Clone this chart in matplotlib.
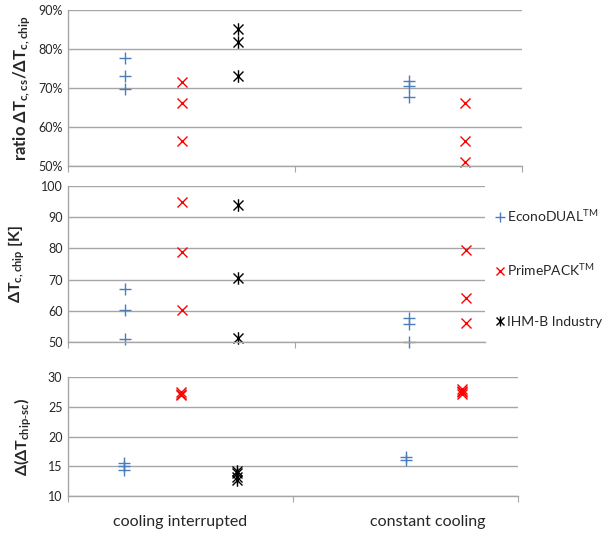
import matplotlib
matplotlib.use('Agg')
import matplotlib.pyplot as plt
from matplotlib.path import Path
from matplotlib.ticker import FuncFormatter

# --- data ---
CATEGORIES = ['cooling interrupted', 'constant cooling']
SERIES = ['EconoDUAL$^{TM}$', 'PrimePACK$^{TM}$', 'IHM-B Industry']

# x values of the scatter points (two groups)
ECONO_X = [0.5, 0.5, 0.5, 3.0, 3.0, 3.0]
PRIME_X = [1.0, 1.0, 1.0, 3.5, 3.5, 3.5]
IHM_X = [1.5, 1.5, 1.5]

# ratio dTc,cs / dTc,chip  [%]
RATIO_ECONO = [77.6, 73.0, 69.7, 71.9, 70.5, 67.8]
RATIO_PRIME = [71.5, 66.1, 56.3, 66.1, 56.4, 50.9]
RATIO_IHM = [85.0, 81.9, 73.2]

# dTc,chip [K]
DT_ECONO = [67.0, 60.2, 51.0, 57.8, 55.8, 50.0]
DT_PRIME = [95.0, 79.0, 60.2, 79.5, 64.0, 56.1]
DT_IHM = [93.8, 70.4, 51.3]

# delta(dT chip-sc)
DD_ECONO_X = [0.5, 0.5, 0.5, 3.0, 3.0]
DD_ECONO = [15.6, 15.0, 14.4, 16.5, 16.0]
DD_PRIME_X = [1.0, 1.0, 1.0, 3.5, 3.5, 3.5, 3.5]
DD_PRIME = [27.4, 27.1, 26.9, 28.0, 27.7, 27.4, 27.1]
DD_IHM_X = [1.5, 1.5, 1.5, 1.5]
DD_IHM = [14.2, 13.8, 13.2, 12.7]

BLUE = '#4a7ebb'
RED = '#ff0000'
BLACK = '#000000'
GRID = '#a6a6a6'
TXT = '#262626'

plt.rcParams['font.family'] = ['Lato', 'DejaVu Sans']
plt.rcParams['mathtext.default'] = 'regular'

fig = plt.figure(figsize=(6.14, 5.38), dpi=100)
W, H = 614, 538


def add_ax(left, top, right, bottom):
    return fig.add_axes([left / W, 1 - bottom / H, (right - left) / W, (bottom - top) / H])


ax1 = add_ax(68, 10, 522, 166)
ax2 = add_ax(68, 186, 485, 342)
ax3 = add_ax(68, 377, 518, 496)

# Excel style "star": an x with a vertical bar through it
STAR = Path([(-1, -1), (1, 1), (-1, 1), (1, -1), (0, -1.25), (0, 1.25)],
            [Path.MOVETO, Path.LINETO, Path.MOVETO, Path.LINETO, Path.MOVETO, Path.LINETO])


def draw(ax, ex, ey, px, py, ix, iy):
    ax.plot(ex, ey, marker='+', color=BLUE, label=SERIES[0], linestyle='none',
            markersize=9, markeredgewidth=1.0, clip_on=False)
    ax.plot(px, py, marker='x', color=RED, label=SERIES[1], linestyle='none',
            markersize=7.5, markeredgewidth=1.0, clip_on=False)
    ax.plot(ix, iy, marker=STAR, color=BLACK, label=SERIES[2], linestyle='none',
            markersize=9, markeredgewidth=1.0, fillstyle='none', clip_on=False)


draw(ax1, ECONO_X, RATIO_ECONO, PRIME_X, RATIO_PRIME, IHM_X, RATIO_IHM)
draw(ax2, ECONO_X, DT_ECONO, PRIME_X, DT_PRIME, IHM_X, DT_IHM)
draw(ax3, DD_ECONO_X, DD_ECONO, DD_PRIME_X, DD_PRIME, DD_IHM_X, DD_IHM)

ax1.set_ylim(50, 90)
ax1.set_yticks(range(50, 91, 10))
ax1.yaxis.set_major_formatter(FuncFormatter(lambda v, p: f'{v:.0f}%'))
ax1.set_xlim(0, 4)
ax1.set_xticks([0, 2, 4])

ax2.set_ylim(50, 100)
ax2.set_yticks(range(50, 101, 10))
ax2.set_xlim(0, 3.67)
ax2.set_xticks([0, 2])

ax3.set_ylim(10, 30)
ax3.set_yticks(range(10, 31, 5))
ax3.set_xlim(0, 4)
ax3.set_xticks([0, 2, 4])

for ax in (ax1, ax2, ax3):
    ax.grid(axis='y', color=GRID, linewidth=1.0)
    ax.set_axisbelow(True)
    for s in ('top', 'right'):
        ax.spines[s].set_visible(False)
    for s in ('left', 'bottom'):
        ax.spines[s].set_color(GRID)
        ax.spines[s].set_linewidth(1.0)
    ax.tick_params(axis='y', length=0, labelsize=9, colors=TXT, pad=4)
    ax.tick_params(axis='x', length=4, color=GRID, labelbottom=False, direction='out')

ax1.set_ylabel('ratio ΔT$_{c, cs}$/ΔT$_{c, chip}$', fontsize=12, fontweight='bold',
               color=TXT, labelpad=4)
ax2.set_ylabel('ΔT$_{c, chip}$ [K]', fontsize=11.5, fontweight='bold', color=TXT, labelpad=10)
ax3.set_ylabel(r'Δ(ΔT$_{chip\text{-}sc}$)', fontsize=11.5, fontweight='bold', color=TXT,
               labelpad=10)

# category labels under the bottom panel
for xc, name in zip([1.0, 3.2], CATEGORIES):
    ax3.text(xc, -0.22, name, transform=ax3.get_xaxis_transform(), ha='center',
             va='center', fontsize=11.5, color=TXT)

handles, labels = ax2.get_legend_handles_labels()
fig.legend(handles, labels, loc='center left', bbox_to_anchor=(486 / W, 1 - 268 / H),
           frameon=False, fontsize=10, labelspacing=2.75, handlelength=0.6,
           handletextpad=0.2, markerscale=0.8, labelcolor=TXT, borderaxespad=0.3)

fig.savefig('out.png', dpi=100)
